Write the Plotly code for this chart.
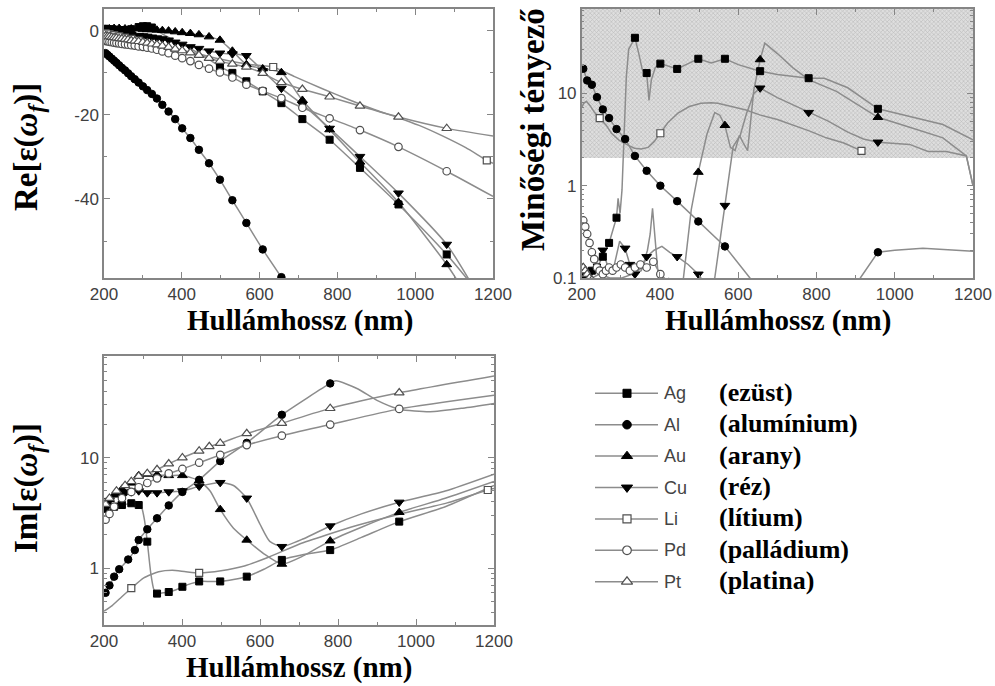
import plotly.graph_objects as go

W, H = 995, 686

# wavelengths (nm) at which the source figure draws a marker symbol
marker_wavelengths = [204, 209, 214, 220, 226, 232, 239, 246, 254, 262, 270, 279, 289, 300, 311, 323,
                      336, 350, 366, 383, 401, 422, 444, 470, 498, 530, 566, 608, 635, 656, 710, 780,
                      858, 915, 957, 1081, 1184]

metals = ["Ag", "Al", "Au", "Cu", "Li", "Pd", "Pt"]
metal_names = ["(ezüst)", "(alumínium)", "(arany)", "(réz)", "(lítium)", "(palládium)", "(platina)"]
x_ticks = [200, 400, 600, 800, 1000, 1200]
x_minor = [300, 500, 700, 900, 1100]
re_ticks = [0, -20, -40]
re_minor = [-10, -30, -50]
im_ticks = [1, 10]
q_ticks = [0.1, 1, 10]
log_minor = [0.2, 0.3, 0.4, 0.5, 0.6, 0.7, 0.8, 0.9, 2, 3, 4, 5, 6, 7, 8, 9, 20, 30, 40, 50, 60, 70, 80]
q_threshold = 2

# ---------------- Re[eps] ----------------
re_ag_x = [200, 204, 214, 226, 239, 254, 270, 289, 300, 311, 323, 340, 355, 370, 388, 405, 426, 448, 474,
           498, 530, 566, 608, 656, 710, 780, 858, 957, 1081, 1160]
re_ag_y = [0.4, 0.5, 0.4, 0.3, 0.2, 0.2, 0.4, 0.9, 1.1, 1.1, 0.8, -0.2, -1.0, -1.8, -2.6, -3.4, -4.4, -5.6, -7.0,
           -8.5, -10.0, -12.0, -14.4, -17.2, -21.0, -25.9, -32.6, -41.3, -53.2, -62.0]
re_al_x = [200, 204, 209, 214, 220, 226, 232, 239, 246, 254, 262, 270, 279, 289, 300, 311, 323, 336, 350, 366,
           383, 401, 422, 444, 470, 498, 530, 566, 608, 656, 710]
re_al_y = [-5.0, -5.3, -5.7, -6.1, -6.6, -7.1, -7.6, -8.2, -8.8, -9.4, -10.1, -10.8, -11.5, -12.3, -13.2, -14.1,
           -15.0, -16.1, -17.6, -19.2, -21.0, -23.2, -25.5, -28.3, -31.5, -35.4, -40.3, -45.7, -52.0, -58.6, -66.0]
re_au_x = [200, 204, 214, 226, 239, 254, 270, 289, 300, 311, 323, 336, 350, 366, 383, 401, 422, 444, 470, 498,
           530, 566, 608, 656, 710, 780, 858, 957, 1081, 1140]
re_au_y = [0.3, 0.4, 0.5, 0.6, 0.6, 0.5, 0.5, 0.5, 0.4, 0.3, 0.3, 0.2, 0.1, 0.0, -0.2, -0.4, -0.6, -0.9, -1.4,
           -2.2, -4.8, -8.0, -9.0, -9.9, -16.5, -23.5, -31.2, -40.8, -55.6, -64.0]
re_cu_x = [200, 204, 214, 226, 239, 254, 270, 289, 300, 311, 323, 336, 350, 366, 383, 401, 422, 444, 470, 498,
           530, 566, 608, 656, 710, 780, 858, 957, 1081, 1150]
re_cu_y = [-0.1, 0.0, -0.1, -0.3, -0.5, -0.7, -0.9, -1.1, -1.2, -1.3, -1.5, -1.7, -1.9, -2.2, -2.7, -3.2, -3.8,
           -4.2, -4.8, -5.3, -5.5, -5.9, -9.5, -13.7, -17.5, -23.2, -29.9, -38.6, -50.8, -61.0]
re_li_x = [200, 204, 214, 226, 239, 254, 270, 289, 305, 330, 360, 395, 430, 475, 520, 575, 635, 690, 760, 830,
           900, 955, 1010, 1070, 1130, 1184, 1200]
re_li_y = [-0.5, -0.6, -0.8, -1.0, -1.3, -1.6, -1.9, -2.3, -2.7, -3.2, -3.8, -4.5, -5.2, -6.2, -7.1, -8.0, -8.6,
           -10.9, -13.7, -16.4, -18.9, -20.6, -22.5, -25.0, -27.8, -30.8, -31.5]
re_pd_x = [200, 204, 209, 214, 220, 226, 232, 239, 246, 254, 262, 270, 279, 289, 300, 311, 323, 336, 350, 366,
           383, 401, 422, 444, 470, 498, 530, 566, 608, 656, 710, 780, 858, 957, 1081, 1200]
re_pd_y = [-2.3, -2.4, -2.5, -2.6, -2.7, -2.8, -2.9, -3.0, -3.1, -3.2, -3.3, -3.4, -3.5, -3.7, -3.8, -4.0, -4.2,
           -4.5, -4.9, -5.3, -5.9, -6.5, -7.2, -8.1, -9.0, -9.9, -11.1, -12.8, -14.3, -16.0, -18.3, -20.8, -23.6,
           -27.6, -33.4, -39.4]
re_pt_x = [200, 204, 209, 214, 220, 226, 232, 239, 246, 254, 262, 270, 279, 289, 300, 311, 323, 336, 350, 366,
           383, 401, 422, 444, 470, 498, 530, 566, 608, 656, 710, 780, 858, 957, 1081, 1200]
re_pt_y = [-1.1, -1.2, -1.3, -1.4, -1.5, -1.6, -1.7, -1.8, -1.9, -2.0, -2.1, -2.3, -2.4, -2.5, -2.7, -2.9, -3.1,
           -3.3, -3.6, -3.9, -4.3, -4.7, -5.2, -5.8, -6.5, -7.2, -7.9, -8.6, -10.1, -12.3, -13.9, -15.7, -17.9,
           -20.5, -23.2, -25.0]

# ---------------- Im[eps] ----------------
im_ag_x = [200, 204, 215, 226, 236, 246, 258, 270, 280, 289, 297, 304, 311, 320, 328, 336, 352, 366, 385, 401,
           425, 444, 472, 498, 532, 566, 610, 656, 712, 780, 860, 957, 1075, 1200]
im_ag_y = [3.2, 3.45, 3.52, 3.6, 3.67, 3.73, 3.8, 3.87, 3.85, 3.73, 3.5, 2.7, 1.74, 0.9, 0.64, 0.59, 0.6, 0.61,
           0.64, 0.68, 0.73, 0.76, 0.76, 0.76, 0.79, 0.84, 0.98, 1.19, 1.33, 1.46, 1.9, 2.64, 3.6, 5.6]
im_al_x = [200, 204, 214, 226, 239, 262, 279, 289, 311, 336, 366, 401, 444, 498, 566, 656, 780, 795, 850, 900,
           958, 1036, 1120, 1200]
im_al_y = [0.56, 0.60, 0.70, 0.84, 0.98, 1.2, 1.46, 1.8, 2.25, 2.83, 3.7, 4.9, 6.3, 9.3, 13.6, 24.4, 46.9, 49.5,
           42.0, 33.0, 27.4, 26.0, 28.0, 30.9]
im_au_x = [200, 204, 214, 226, 246, 270, 289, 311, 336, 366, 401, 444, 472, 498, 532, 566, 610, 656, 712, 780,
           860, 957, 1075, 1200]
im_au_y = [3.5, 3.7, 4.2, 4.6, 5.2, 5.9, 6.9, 7.1, 7.0, 6.9, 6.9, 6.2, 5.0, 3.4, 2.3, 1.8, 1.35, 1.09, 1.3, 1.77,
           2.35, 3.2, 4.3, 6.1]
im_cu_x = [200, 204, 214, 239, 254, 270, 289, 311, 336, 366, 401, 444, 498, 532, 566, 600, 625, 656, 712, 780,
           860, 957, 1075, 1200]
im_cu_y = [3.2, 3.5, 4.1, 4.7, 4.8, 4.9, 5.0, 4.8, 4.8, 4.9, 5.0, 5.5, 5.95, 5.6, 4.3, 2.5, 1.75, 1.57, 1.85,
           2.41, 3.1, 3.95, 5.0, 7.1]
im_li_x = [200, 221, 245, 270, 302, 340, 375, 410, 444, 500, 560, 620, 700, 770, 850, 960, 1080, 1184, 1200]
im_li_y = [0.41, 0.46, 0.55, 0.66, 0.82, 0.93, 0.96, 0.93, 0.91, 0.95, 1.05, 1.25, 1.65, 2.0, 2.45, 3.1, 3.9,
           5.1, 5.25]
im_pd_x = [200, 204, 214, 226, 246, 270, 289, 311, 336, 366, 401, 444, 498, 566, 656, 780, 957, 1200]
im_pd_y = [2.6, 2.75, 3.1, 3.6, 4.3, 4.9, 5.4, 5.9, 6.5, 7.2, 7.9, 9.0, 10.6, 13.0, 15.8, 19.9, 27.6, 36.7]
im_pt_x = [200, 204, 214, 232, 254, 270, 289, 311, 336, 366, 401, 444, 470, 498, 566, 656, 780, 957, 1200]
im_pt_y = [3.6, 3.8, 4.3, 5.0, 5.6, 6.1, 6.8, 7.2, 7.8, 8.8, 10.0, 11.5, 12.6, 13.5, 16.5, 20.5, 27.9, 38.6,
           54.8]

# ---------------- quality factor ----------------
q_ag_x = [200, 204, 214, 226, 239, 254, 270, 289, 293, 298, 303, 308, 314, 320, 336, 345, 355, 366, 372, 378,
          388, 401, 425, 444, 472, 498, 531, 566, 600, 656, 700, 780, 820, 880, 957, 1038, 1123, 1200]
q_ag_y = [0.1, 0.11, 0.1, 0.12, 0.13, 0.17, 0.24, 0.45, 0.73, 0.5, 0.9, 3.0, 15, 30, 40, 28, 18, 16.6, 8.4, 14,
          19, 21, 19.5, 18.4, 21, 23.7, 21.3, 23.7, 20.5, 17.4, 16, 14.6, 14.6, 11.5, 6.8, 5.6, 4.6, 3.13]
q_al_x = [200, 204, 214, 226, 239, 254, 270, 289, 311, 336, 366, 401, 444, 498, 566, 630, 700, 850, 912, 957,
          1000, 1072, 1150, 1200]
q_al_y = [19.5, 18.5, 13.8, 12.4, 9.1, 6.7, 5.4, 4.1, 3.2, 2.1, 1.45, 1.0, 0.68, 0.41, 0.22, 0.1, 0.05, 0.05,
          0.1, 0.19, 0.2, 0.21, 0.2, 0.195]
q_au_x = [200, 204, 214, 227, 245, 272, 302, 330, 355, 368, 375, 381, 388, 396, 410, 440, 460, 480, 498, 520,
          540, 553, 566, 580, 592, 603, 613, 624, 640, 656, 668, 700, 740, 781, 851, 957, 1038, 1123, 1183, 1200]
q_au_y = [0.14, 0.13, 0.11, 0.1, 0.11, 0.1, 0.1, 0.11, 0.13, 0.2, 0.3, 0.57, 0.25, 0.1, 0.07, 0.07, 0.1, 0.55,
          1.4, 3.6, 6.2, 5.8, 4.5, 2.6, 2.4, 3.5, 2.9, 2.4, 11, 23.2, 35, 27, 18.9, 14.0, 10.5, 5.5, 4.3, 3.3,
          2.1, 1.0]
q_cu_x = [200, 204, 214, 226, 240, 254, 265, 280, 297, 311, 323, 336, 352, 366, 385, 405, 425, 444, 472, 498,
          520, 540, 566, 587, 605, 621, 640, 656, 700, 780, 830, 880, 920, 957, 1038, 1085, 1132, 1183, 1200]
q_cu_y = [0.12, 0.11, 0.1, 0.12, 0.15, 0.2, 0.14, 0.12, 0.25, 0.21, 0.14, 0.11, 0.12, 0.17, 0.2, 0.22, 0.19,
          0.17, 0.14, 0.11, 0.08, 0.1, 0.61, 2.65, 3.5, 6.0, 10.0, 11.4, 9.0, 6.2, 5.0, 3.8, 3.2, 2.96, 2.8,
          2.35, 2.35, 2.1, 1.0]
q_li_x = [200, 205, 212, 221, 233, 246, 263, 276, 296, 318, 335, 352, 370, 385, 401, 420, 446, 475, 505, 531,
          548, 580, 620, 655, 700, 783, 825, 870, 915]
q_li_y = [7.0, 7.8, 8.2, 7.4, 6.2, 5.4, 4.5, 3.7, 3.1, 2.75, 2.55, 2.5, 2.6, 3.0, 3.7, 4.8, 6.1, 7.2, 7.8, 7.9,
          7.8, 7.3, 6.6, 5.85, 5.2, 3.9, 3.3, 2.9, 2.38]
q_pd_x = [200, 204, 209, 214, 220, 226, 232, 239, 246, 254, 262, 270, 279, 289, 300, 311, 323, 336, 350, 366,
          383, 401, 422, 444]
q_pd_y = [0.45, 0.42, 0.36, 0.3, 0.24, 0.19, 0.16, 0.13, 0.12, 0.11, 0.12, 0.13, 0.12, 0.13, 0.14, 0.13, 0.12,
          0.13, 0.14, 0.13, 0.15, 0.11, 0.09, 0.08]
q_pt_x = [200, 204, 209, 214, 220, 226, 250, 300, 400]
q_pt_y = [0.14, 0.13, 0.12, 0.11, 0.1, 0.095, 0.09, 0.08, 0.07]

RE_RANGE = [-58.8, 5.2]
IM_RANGE = [-0.513, 1.919]   # log10
Q_RANGE = [-1.0, 1.914]      # log10

LINE = "#8c8c8c"
FRAME = "#858585"
TICKTXT = "#404040"
SERIF = "Liberation Serif"
SANS = "Liberation Sans"

STYLE = {
    "Ag": ("square", True, 7),
    "Al": ("circle", True, 7.5),
    "Au": ("triangle-up", True, 8.5),
    "Cu": ("triangle-down", True, 8.5),
    "Li": ("square", False, 7),
    "Pd": ("circle", False, 7.5),
    "Pt": ("triangle-up", False, 8.5),
}


def marker_style(metal, scale=1.0):
    sym, filled, size = STYLE[metal]
    if filled:
        return dict(symbol=sym, size=size * scale, color="black", line=dict(color="black", width=1))
    return dict(symbol=sym, size=size * scale, color="white", line=dict(color="#505050", width=1.2))


fig = go.Figure()

# shaded region Q >= 2 in the quality-factor panel
q_top = 10 ** Q_RANGE[1]
fig.add_trace(go.Scatter(
    x=[x_ticks[0], x_ticks[-1], x_ticks[-1], x_ticks[0], x_ticks[0]],
    y=[q_threshold, q_threshold, q_top, q_top, q_threshold],
    mode="lines", fill="toself", line=dict(width=0),
    fillcolor="#d8d8d8",
    fillpattern=dict(shape="x", size=3, solidity=0.35, fgcolor="#b8b8b8", bgcolor="#dedede", fillmode="replace"),
    xaxis="x2", yaxis="y2", hoverinfo="skip"))

panels = [
    ("x", "y", "spline", {"Ag": (re_ag_x, re_ag_y), "Al": (re_al_x, re_al_y), "Au": (re_au_x, re_au_y),
                          "Cu": (re_cu_x, re_cu_y), "Li": (re_li_x, re_li_y), "Pd": (re_pd_x, re_pd_y),
                          "Pt": (re_pt_x, re_pt_y)}),
    ("x2", "y2", "linear", {"Ag": (q_ag_x, q_ag_y), "Al": (q_al_x, q_al_y), "Au": (q_au_x, q_au_y),
                            "Cu": (q_cu_x, q_cu_y), "Li": (q_li_x, q_li_y), "Pd": (q_pd_x, q_pd_y),
                            "Pt": (q_pt_x, q_pt_y)}),
    ("x3", "y3", "spline", {"Ag": (im_ag_x, im_ag_y), "Al": (im_al_x, im_al_y), "Au": (im_au_x, im_au_y),
                            "Cu": (im_cu_x, im_cu_y), "Li": (im_li_x, im_li_y), "Pd": (im_pd_x, im_pd_y),
                            "Pt": (im_pt_x, im_pt_y)}),
]

mk_set = set(marker_wavelengths)
for xa, ya, shape, data in panels:
    for m in metals:
        xs, ys = data[m]
        line = dict(color=LINE, width=1.5, shape=shape)
        if shape == "spline":
            line["smoothing"] = 0.6
        fig.add_trace(go.Scatter(x=xs, y=ys, mode="lines", line=line, xaxis=xa, yaxis=ya, hoverinfo="skip"))
    for m in metals:
        xs, ys = data[m]
        mx = [x for x in xs if x in mk_set]
        my = [y for x, y in zip(xs, ys) if x in mk_set]
        fig.add_trace(go.Scatter(x=mx, y=my, mode="markers", marker=marker_style(m),
                                 xaxis=xa, yaxis=ya, hoverinfo="skip"))

# custom legend drawn on a full-figure pixel axis
LEG_X0, LEG_X1, LEG_XM = 595, 658, 627
LEG_Y0, LEG_DY = 393.3, 31.4
for i, m in enumerate(metals):
    yy = LEG_Y0 + i * LEG_DY
    fig.add_trace(go.Scatter(x=[LEG_X0, LEG_X1], y=[yy, yy], mode="lines", line=dict(color=LINE, width=1.5),
                             xaxis="x4", yaxis="y4", hoverinfo="skip"))
    fig.add_trace(go.Scatter(x=[LEG_XM], y=[yy], mode="markers", marker=marker_style(m, 1.15),
                             xaxis="x4", yaxis="y4", hoverinfo="skip"))

annotations = []
for i, (m, nm) in enumerate(zip(metals, metal_names)):
    yy = LEG_Y0 + i * LEG_DY
    annotations.append(dict(x=662 / W, y=1 - yy / H, xref="paper", yref="paper", text=m, showarrow=False,
                            xanchor="left", yanchor="middle",
                            font=dict(family=SANS, size=18, color="#444444")))
    annotations.append(dict(x=717 / W, y=1 - (yy - 1) / H, xref="paper", yref="paper", text="<b>%s</b>" % nm,
                            showarrow=False, xanchor="left", yanchor="middle",
                            font=dict(family=SERIF, size=26, color="black")))


def title(text, px, py, size, angle=0):
    annotations.append(dict(x=px / W, y=1 - py / H, xref="paper", yref="paper", text=text, showarrow=False,
                            xanchor="center", yanchor="middle", textangle=angle,
                            font=dict(family=SERIF, size=size, color="black")))


title("<b>Re[ε(<i>ω</i><sub><i>f</i></sub>)]</b>", 28, 147, 33, -90)
title("<b>Im[ε(<i>ω</i><sub><i>f</i></sub>)]</b>", 28, 488, 33, -90)
title("<b>Minőségi tényező</b>", 533, 130, 33, -90)
title("<b>Hullámhossz (nm)</b>", 300, 320, 29)
title("<b>Hullámhossz (nm)</b>", 778, 320, 29)
title("<b>Hullámhossz (nm)</b>", 299, 667, 29)


def base_axis():
    return dict(showline=True, linecolor=FRAME, linewidth=1.5, mirror="allticks", ticks="inside", ticklen=6,
                tickcolor=FRAME, tickwidth=1, showgrid=False, zeroline=False, automargin=False,
                tickfont=dict(family=SANS, size=17, color=TICKTXT))


def xax(domain, anchor):
    d = base_axis()
    d.update(domain=domain, anchor=anchor, range=[x_ticks[0], x_ticks[-1]], tickmode="array", tickvals=x_ticks,
             ticktext=[str(v) for v in x_ticks],
             minor=dict(tickmode="array", tickvals=x_minor, ticks="inside", ticklen=3, tickcolor=FRAME,
                        showgrid=False))
    return d


def ylog(domain, anchor, rng, ticks):
    d = base_axis()
    d.update(domain=domain, anchor=anchor, type="log", range=rng, tickmode="array", tickvals=ticks,
             ticktext=[("%g" % v) for v in ticks],
             minor=dict(tickmode="array", tickvals=log_minor, ticks="inside", ticklen=3, tickcolor=FRAME,
                        showgrid=False))
    return d


yre = base_axis()
yre.update(domain=[1 - 278 / H, 1 - 9 / H], anchor="x", range=RE_RANGE, tickmode="array", tickvals=re_ticks,
           ticktext=[str(v) for v in re_ticks],
           minor=dict(tickmode="array", tickvals=re_minor, ticks="inside", ticklen=3, tickcolor=FRAME,
                      showgrid=False))

fig.update_layout(
    template="none",
    width=W, height=H, margin=dict(l=0, r=0, t=0, b=0, pad=0),
    paper_bgcolor="white", plot_bgcolor="rgba(0,0,0,0)", showlegend=False,
    xaxis=xax([104 / W, 493 / W], "y"),
    yaxis=yre,
    xaxis2=xax([581.7 / W, 973 / W], "y2"),
    yaxis2=ylog([1 - 278 / H, 1 - 9 / H], "x2", Q_RANGE, q_ticks),
    xaxis3=xax([104 / W, 494 / W], "y3"),
    yaxis3=ylog([1 - 625 / H, 1 - 356 / H], "x3", IM_RANGE, im_ticks),
    xaxis4=dict(domain=[0, 1], anchor="y4", range=[0, W], visible=False, fixedrange=True, automargin=False),
    yaxis4=dict(domain=[0, 1], anchor="x4", range=[H, 0], visible=False, fixedrange=True, automargin=False),
    annotations=annotations,
)

fig.write_html("out.html")
